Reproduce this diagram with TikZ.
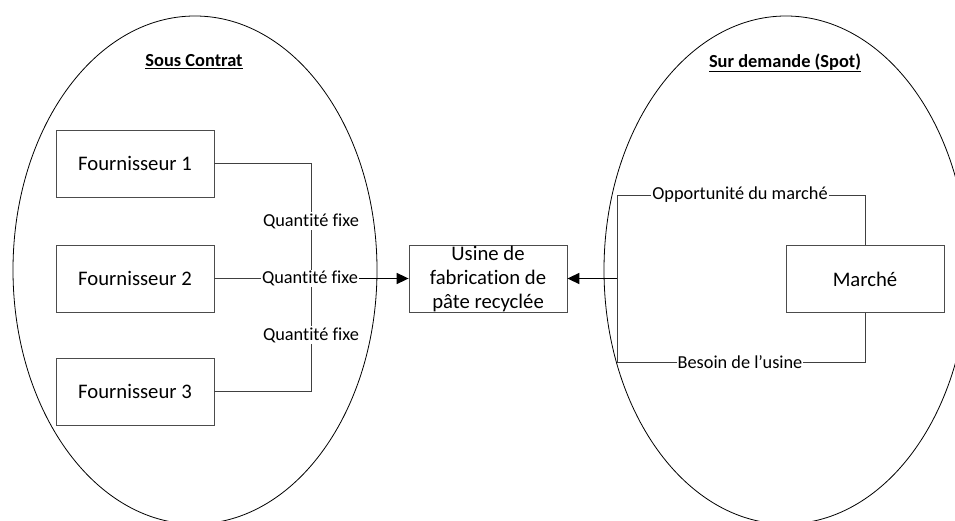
\documentclass[tikz,border=0pt]{standalone}
\usepackage{fontspec}
\setmainfont{Carlito}[Ligatures=NoCommon]
\usetikzlibrary{arrows.meta}
\begin{document}
\begin{tikzpicture}[x=1pt,y=-1pt,
  box/.style={draw=black!70, line width=0.8pt, minimum width=158pt, minimum height=67pt, inner sep=0pt, font=\fontsize{20.7}{24}\selectfont, align=center},
  lab/.style={fill=white, inner sep=1pt, font=\fontsize{18.3}{22}\selectfont},
  conn/.style={draw=black!75, line width=0.8pt},
  arr/.style={draw=black, line width=1.6pt, -{Triangle[length=12pt,width=11pt]}},
  title/.style={font=\fontsize{18.4}{22}\selectfont\bfseries},
  oval/.style={draw=black, line width=0.8pt}]
\useasboundingbox (0,0) rectangle (955,521);
\begin{scope}
\clip (0,0) rectangle (955,521);
\draw[oval] (195,270) ellipse [x radius=182pt, y radius=254pt];
\draw[oval] (786,270) ellipse [x radius=182pt, y radius=254pt];
\end{scope}
\node[title] (t1) at (194,62) {\underline{Sous Contrat}};
\node[title] (t2) at (785,63) {\underline{Sur demande (Spot)}};
\node[box] (f1) at (135,163.5) {Fournisseur 1};
\node[box] (f2) at (135,278.5) {Fournisseur 2};
\node[box] (f3) at (135,391.5) {Fournisseur 3};
\node[box] (u) at (488,278.5) {Usine de\\fabrication de\\pâte recyclée};
\node[box] (m) at (865,279) {Marché};
\coordinate (jl) at (311,278.5);
\coordinate (jr) at (617,278.5);
\coordinate (rt) at (617,195);
\coordinate (rb) at (617,362);
\draw[conn] (f1.east) -| (jl);
\draw[conn] (f3.east) -| (jl);
\draw[conn] (f2.east) -- (jl);
\draw[conn] (m.north) |- (rt) -- (jr);
\draw[conn] (m.south) |- (rb) -- (jr);
\node[lab] (q1) at (311,221) {Quantité fixe};
\node[lab] (q2) at (310,278.5) {Quantité fixe};
\node[lab] (q3) at (311,335) {Quantité fixe};
\node[lab] (op) at (740,195) {Opportunité du marché};
\node[lab] (bs) at (740,362) {Besoin de l’usine};
\draw[arr] (q2.east) -- (u.west);
\draw[arr] (jr) -- (u.east);
\end{tikzpicture}
\end{document}
